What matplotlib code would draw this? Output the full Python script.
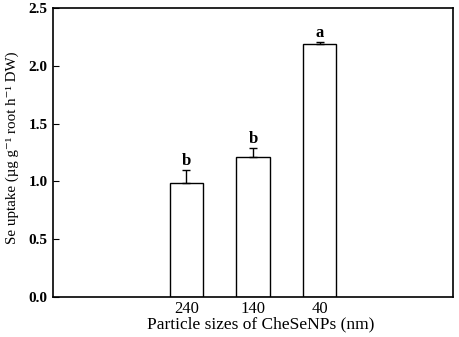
import matplotlib
matplotlib.use("Agg")
import matplotlib.pyplot as plt

sizes = ["240", "140", "40"]
uptake = [0.99, 1.21, 2.19]
err = [0.11, 0.08, 0.02]
letters = ["b", "b", "a"]

plt.rcParams["font.family"] = ["Liberation Serif", "DejaVu Serif"]

fig = plt.figure(figsize=(4.59, 3.37), dpi=100)
ax = fig.add_axes([0.1155, 0.1187, 0.8715, 0.8573])

x = list(range(len(sizes)))
ax.bar(x, uptake, width=0.5, color="white", edgecolor="black", linewidth=1.0,
       yerr=[[0] * len(err), err], capsize=3,
       error_kw=dict(ecolor="black", elinewidth=1.0, capthick=1.0))

for xi, v, e, l in zip(x, uptake, err, letters):
    ax.text(xi, v + e + 0.005, l, ha="center", va="bottom", fontsize=12, fontweight="bold")

ax.set_xlim(-2, 4)
ax.set_ylim(0, 2.5)
ax.set_xticks(x)
ax.set_xticklabels(sizes, fontsize=12)
ax.set_yticks([0, 0.5, 1.0, 1.5, 2.0, 2.5])
ax.set_yticklabels(["0.0", "0.5", "1.0", "1.5", "2.0", "2.5"], fontsize=11, fontweight="bold")
ax.tick_params(axis="x", length=0, pad=3)
ax.tick_params(axis="y", direction="in", length=4, pad=4)
ax.set_xlabel("Particle sizes of CheSeNPs (nm)", fontsize=12.5)
ax.xaxis.set_label_coords(0.52, -0.068)
ax.set_ylabel("Se uptake (µg g⁻¹ root h⁻¹ DW)", fontsize=10.8)
ax.yaxis.set_label_coords(-0.085, 0.515)
for s in ax.spines.values():
    s.set_linewidth(1.2)

fig.savefig("out.png", dpi=100)
